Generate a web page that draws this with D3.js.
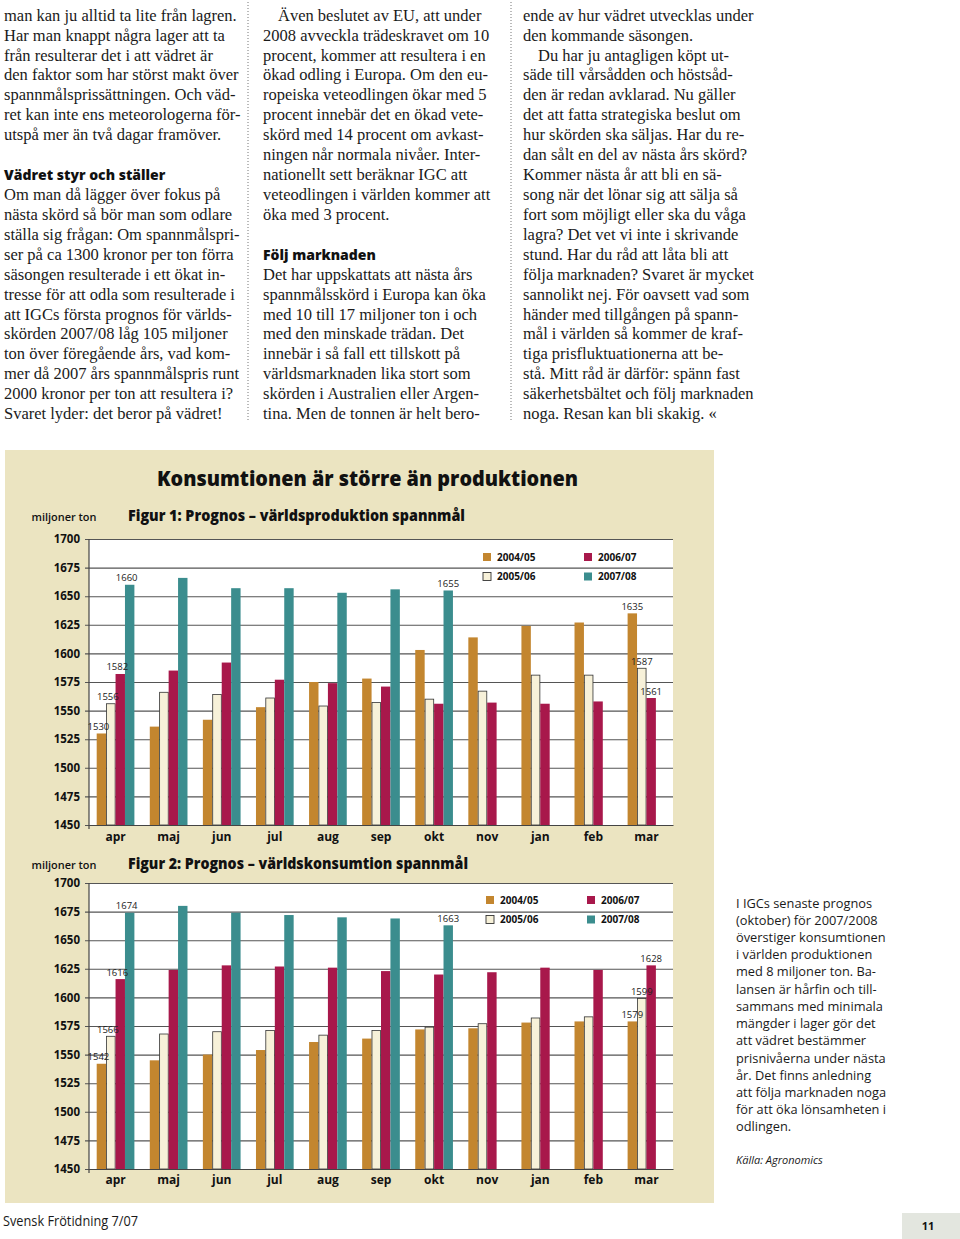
<!DOCTYPE html>
<html>
<head>
<meta charset="utf-8">
<script src="https://cdn.jsdelivr.net/npm/d3@7/dist/d3.min.js"></script>
<style>
  html, body { margin: 0; padding: 0; background: #fff; }
  svg { display: block; }
</style>
</head>
<body>
<svg id="page" width="960" height="1239"></svg>
<script>
// ---------------- DATA ----------------
const months = ["apr","maj","jun","jul","aug","sep","okt","nov","jan","feb","mar"];
const seriesNames = ["2004/05","2005/06","2006/07","2007/08"];
const yTicks = [1450,1475,1500,1525,1550,1575,1600,1625,1650,1675,1700];

// Figur 1: världsproduktion (miljoner ton)
const prod0405 = [1530,1536,1542,1553,1575,1578,1603,1614,1624,1627,1635];
const prod0506 = [1556,1566,1564,1561,1554,1557,1560,1567,1581,1581,1587];
const prod0607 = [1582,1585,1592,1577,1574,1571,1556,1557,1556,1558,1561];
const prod0708 = [1660,1666,1657,1657,1653,1656,1655,null,null,null,null];

// Figur 2: världskonsumtion (miljoner ton)
const cons0405 = [1542,1545,1550,1554,1561,1564,1572,1573,1578,1579,1579];
const cons0506 = [1566,1568,1570,1571,1567,1571,1574,1577,1582,1583,1599];
const cons0607 = [1616,1624,1628,1627,1626,1623,1620,1622,1626,1624,1628];
const cons0708 = [1674,1680,1674,1672,1670,1669,1663,null,null,null,null];

// which bars carry a value label: [series index, month index]
const prodLabelled = [[0,0],[1,0],[2,0],[3,0],[3,6],[0,10],[1,10],[2,10]];
const consLabelled = [[0,0],[1,0],[2,0],[3,0],[3,6],[0,10],[1,10],[2,10]];

// ---------------- TEXT ----------------
const col1 = [
  "man kan ju alltid ta lite från lagren.",
  "Har man knappt några lager att ta",
  "från resulterar det i att vädret är",
  "den faktor som har störst makt över",
  "spannmålsprissättningen. Och väd-",
  "ret kan inte ens meteorologerna för-",
  "utspå mer än två dagar framöver.",
  "",
  "#Vädret styr och ställer",
  "Om man då lägger över fokus på",
  "nästa skörd så bör man som odlare",
  "ställa sig frågan: Om spannmålspri-",
  "ser på ca 1300 kronor per ton förra",
  "säsongen resulterade i ett ökat in-",
  "tresse för att odla som resulterade i",
  "att IGCs första prognos för världs-",
  "skörden 2007/08 låg 105 miljoner",
  "ton över föregående års, vad kom-",
  "mer då 2007 års spannmålspris runt",
  "2000 kronor per ton att resultera i?",
  "Svaret lyder: det beror på vädret!"
];
const col2 = [
  ">Även beslutet av EU, att under",
  "2008 avveckla trädeskravet om 10",
  "procent, kommer att resultera i en",
  "ökad odling i Europa. Om den eu-",
  "ropeiska veteodlingen ökar med 5",
  "procent innebär det en ökad vete-",
  "skörd med 14 procent om avkast-",
  "ningen når normala nivåer. Inter-",
  "nationellt sett beräknar IGC att",
  "veteodlingen i världen kommer att",
  "öka med 3 procent.",
  "",
  "#Följ marknaden",
  "Det har uppskattats att nästa års",
  "spannmålsskörd i Europa kan öka",
  "med 10 till 17 miljoner ton i och",
  "med den minskade trädan. Det",
  "innebär i så fall ett tillskott på",
  "världsmarknaden lika stort som",
  "skörden i Australien eller Argen-",
  "tina. Men de tonnen är helt bero-"
];
const col3 = [
  "ende av hur vädret utvecklas under",
  "den kommande säsongen.",
  ">Du har ju antagligen köpt ut-",
  "säde till vårsådden och höstsåd-",
  "den är redan avklarad. Nu gäller",
  "det att fatta strategiska beslut om",
  "hur skörden ska säljas. Har du re-",
  "dan sålt en del av nästa års skörd?",
  "Kommer nästa år att bli en sä-",
  "song när det lönar sig att sälja så",
  "fort som möjligt eller ska du våga",
  "lagra? Det vet vi inte i skrivande",
  "stund. Har du råd att låta bli att",
  "följa marknaden? Svaret är mycket",
  "sannolikt nej. För oavsett vad som",
  "händer med tillgången på spann-",
  "mål i världen så kommer de kraf-",
  "tiga prisfluktuationerna att be-",
  "stå. Mitt råd är därför: spänn fast",
  "säkerhetsbältet och följ marknaden",
  "noga. Resan kan bli skakig. «"
];
const sidebar = [
  "I IGCs senaste prognos",
  "(oktober) för 2007/2008",
  "överstiger konsumtionen",
  "i världen produktionen",
  "med 8 miljoner ton. Ba-",
  "lansen är hårfin och till-",
  "sammans med minimala",
  "mängder i lager gör det",
  "att vädret bestämmer",
  "prisnivåerna under nästa",
  "år. Det finns anledning",
  "att följa marknaden noga",
  "för att öka lönsamheten i",
  "odlingen."
];

// ---------------- DRAW ----------------
const svg = d3.select("#page");
const SERIF = "'Liberation Serif','DejaVu Serif',serif";
const SANS = "'Open Sans','Noto Sans','DejaVu Sans',sans-serif";
const colors = ["#c3862f", "#f7f1d9", "#a8184b", "#3b8d8e"];

// article columns
function drawColumn(lines, x0) {
  const g = svg.append("g");
  lines.forEach((ln, i) => {
    if (!ln) return;
    const y = 20.7 + i * 19.92;
    if (ln[0] === "#") {
      g.append("text").attr("x", x0).attr("y", y)
        .attr("font-family", SANS).attr("font-weight", 800).attr("font-size", 14)
        .attr("fill", "#111").text(ln.slice(1));
    } else {
      const indent = ln[0] === ">";
      g.append("text").attr("x", x0 + (indent ? 15 : 0)).attr("y", y)
        .attr("font-family", SERIF).attr("font-size", 16.5)
        .attr("fill", "#1a1a1a").text(indent ? ln.slice(1) : ln);
    }
  });
}
drawColumn(col1, 4);
drawColumn(col2, 263);
drawColumn(col3, 523);

// dotted column separators
[248, 511].forEach(x => {
  svg.append("line").attr("x1", x).attr("x2", x).attr("y1", 2).attr("y2", 420)
    .attr("stroke", "#777").attr("stroke-width", 1).attr("stroke-dasharray", "1,2");
});

// beige panel
svg.append("rect").attr("x", 5).attr("y", 450).attr("width", 709).attr("height", 753)
  .attr("fill", "#ebe4c1");

svg.append("text").attr("x", 157).attr("y", 486)
  .attr("font-family", SANS).attr("font-weight", 800).attr("font-size", 21)
  .attr("textLength", 421).attr("lengthAdjust", "spacingAndGlyphs")
  .attr("fill", "#111").text("Konsumtionen är större än produktionen");

const plotX0 = 89, plotX1 = 673;

function drawChart(cfg) {
  const { top, bottom, title, titleBaseline, data, labelled } = cfg;
  const g = svg.append("g");
  const x = d3.scaleBand().domain(months).range([plotX0, plotX1])
    .paddingInner(0.29).paddingOuter(0.145);
  const xs = d3.scaleBand().domain(d3.range(4)).range([0, x.bandwidth()]).padding(0);
  const y = d3.scaleLinear().domain([1450, 1700]).range([bottom, top]);

  // white plot area
  g.append("rect").attr("x", plotX0).attr("y", top)
    .attr("width", plotX1 - plotX0).attr("height", bottom - top).attr("fill", "#fff");

  // headings
  g.append("text").attr("x", 31.5).attr("y", titleBaseline)
    .attr("font-family", SANS).attr("font-weight", 600).attr("font-size", 11.5)
    .attr("textLength", 65).attr("lengthAdjust", "spacingAndGlyphs")
    .attr("fill", "#111").text("miljoner ton");
  g.append("text").attr("x", 128).attr("y", titleBaseline)
    .attr("font-family", SANS).attr("font-weight", 800).attr("font-size", 15)
    .attr("textLength", cfg.titleWidth).attr("lengthAdjust", "spacingAndGlyphs")
    .attr("fill", "#111").text(title);

  // grid + y axis
  const yAxis = d3.axisLeft(y).tickValues(yTicks).tickSize(-(plotX1 - plotX0)).tickPadding(9)
    .tickFormat(d3.format("d"));
  const ya = g.append("g").attr("transform", `translate(${plotX0},0)`).call(yAxis);
  ya.select(".domain").remove();
  ya.selectAll(".tick line").attr("stroke", "#555").attr("stroke-width", 1.1).attr("x1", -4);
  ya.selectAll(".tick text").attr("font-family", SANS).attr("font-weight", 700)
    .attr("font-size", 11.5).attr("fill", "#111");
  g.append("line").attr("x1", plotX0).attr("x2", plotX0).attr("y1", top).attr("y2", bottom + 4)
    .attr("stroke", "#444").attr("stroke-width", 1.2);

  // bars
  data.forEach((vals, si) => {
    g.append("g").selectAll("rect")
      .data(vals.map((v, mi) => ({ v, m: months[mi] })).filter(d => d.v != null))
      .join("rect")
      .attr("x", d => x(d.m) + xs(si) + (si === 1 ? 0.4 : 0))
      .attr("width", xs.bandwidth() - (si === 1 ? 0.8 : 0))
      .attr("y", d => y(d.v))
      .attr("height", d => bottom - y(d.v))
      .attr("fill", colors[si])
      .attr("stroke", si === 1 ? "#333" : "none")
      .attr("stroke-width", si === 1 ? 0.8 : 0);
  });

  // value labels
  labelled.forEach(([si, mi]) => {
    const v = data[si][mi];
    g.append("text")
      .attr("x", x(months[mi]) + xs(si) + xs.bandwidth() / 2 - (mi === 0 ? 3 : 0))
      .attr("y", y(v) - 3.5)
      .attr("text-anchor", "middle")
      .attr("font-family", SANS).attr("font-size", 9.5).attr("fill", "#222")
      .text(v);
  });

  // x axis labels
  const xAxis = d3.axisBottom(x).tickSize(0).tickPadding(0);
  const xa = g.append("g").attr("transform", `translate(0,${bottom})`).call(xAxis);
  xa.select(".domain").attr("stroke", "#444").attr("stroke-width", 1.2);
  xa.selectAll(".tick text").attr("font-family", SANS).attr("font-weight", 700)
    .attr("font-size", 12).attr("fill", "#111").attr("dy", null).attr("y", cfg.monthDy);

  // legend
  const lg = g.append("g");
  const lx = cfg.legendX, ly = cfg.legendY;
  seriesNames.forEach((s, i) => {
    const cx = lx + (i >= 2 ? 101 : 0);
    const cy = ly + (i % 2) * 19.5;
    lg.append("rect").attr("x", cx).attr("y", cy).attr("width", 8).attr("height", 8)
      .attr("fill", colors[i]).attr("stroke", i === 1 ? "#333" : "none").attr("stroke-width", 0.9);
    lg.append("text").attr("x", cx + 14).attr("y", cy + 7.5)
      .attr("font-family", SANS).attr("font-weight", 700).attr("font-size", 10)
      .attr("fill", "#111").text(s);
  });
}

drawChart({
  top: 539, bottom: 825, title: "Figur 1: Prognos – världsproduktion spannmål",
  titleBaseline: 521, titleWidth: 337,
  data: [prod0405, prod0506, prod0607, prod0708], labelled: prodLabelled,
  legendX: 483, legendY: 553, monthDy: 16
});
drawChart({
  top: 883, bottom: 1169, title: "Figur 2: Prognos – världskonsumtion spannmål",
  titleBaseline: 868.5, titleWidth: 340,
  data: [cons0405, cons0506, cons0607, cons0708], labelled: consLabelled,
  legendX: 486, legendY: 896, monthDy: 15
});

// sidebar
sidebar.forEach((ln, i) => {
  svg.append("text").attr("x", 736).attr("y", 907.5 + i * 17.23)
    .attr("font-family", SANS).attr("font-size", 12.8).attr("fill", "#1a1a1a").text(ln);
});
svg.append("text").attr("x", 736).attr("y", 1164)
  .attr("font-family", SANS).attr("font-style", "italic").attr("font-size", 11)
  .attr("fill", "#1a1a1a").text("Källa: Agronomics");

// footer
svg.append("text").attr("x", 3).attr("y", 1226)
  .attr("font-family", SANS).attr("font-size", 14)
  .attr("textLength", 135).attr("lengthAdjust", "spacingAndGlyphs")
  .attr("fill", "#1a1a1a").text("Svensk Frötidning 7/07");
svg.append("rect").attr("x", 902).attr("y", 1213).attr("width", 58).attr("height", 26)
  .attr("fill", "#e3e6df");
svg.append("text").attr("x", 928).attr("y", 1229.5).attr("text-anchor", "middle")
  .attr("font-family", SANS).attr("font-weight", 700).attr("font-size", 11)
  .attr("fill", "#111").text("11");
</script>
</body>
</html>
